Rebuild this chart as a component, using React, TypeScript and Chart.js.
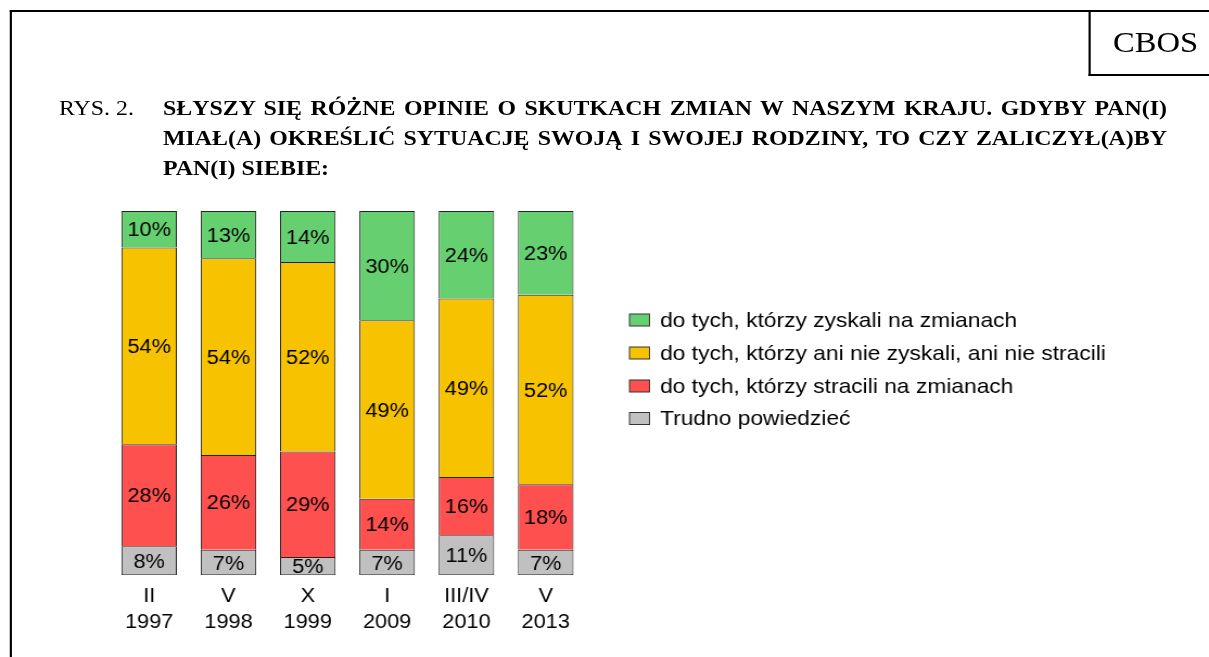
import React, { useEffect, useRef } from "react";
import { Chart, registerables } from "chart.js";

Chart.register(...registerables);

const categories: string[][] = [
  ["II", "1997"],
  ["V", "1998"],
  ["X", "1999"],
  ["I", "2009"],
  ["III/IV", "2010"],
  ["V", "2013"],
];
const zyskali = [10, 13, 14, 30, 24, 23];
const aniNie = [54, 54, 52, 49, 49, 52];
const stracili = [28, 26, 29, 14, 16, 18];
const trudno = [8, 7, 5, 7, 11, 7];

const seriesNames = [
  "do tych, którzy zyskali na zmianach",
  "do tych, którzy ani nie zyskali, ani nie stracili",
  "do tych, którzy stracili na zmianach",
  "Trudno powiedzieć",
];

const COLORS = {
  green: "#66D070",
  yellow: "#F7C300",
  red: "#FF5050",
  grey: "#C0C0C0",
};

const FONT = "Liberation Sans, Arial, sans-serif";
const SERIF = "Liberation Serif, 'Times New Roman', serif";

// logical width; the whole page is stretched horizontally to 1209px
const LW = 1114;
const SX = 1209 / LW;

const labelsPlugin = {
  id: "segLabels",
  afterDatasetsDraw(chart: any) {
    const ctx = chart.ctx;
    ctx.save();
    ctx.font = `20px ${FONT}`;
    ctx.fillStyle = "#000";
    ctx.textAlign = "center";
    ctx.textBaseline = "middle";
    chart.data.datasets.forEach((ds: any, i: number) => {
      const meta = chart.getDatasetMeta(i);
      meta.data.forEach((el: any, j: number) => {
        const v = ds.data[j];
        ctx.fillText(`${v}%`, el.x, (el.y + el.base) / 2 + 1.5);
      });
    });
    ctx.restore();
  },
};

const legendPlugin = {
  id: "customLegend",
  afterDraw(chart: any) {
    const ctx = chart.ctx;
    ctx.save();
    ctx.font = `21px ${FONT}`;
    ctx.textBaseline = "middle";
    ctx.textAlign = "left";
    const dsList = [...chart.data.datasets].reverse();
    const rowY = [320, 353, 386, 418.5];
    const bx = 629.5 / SX;
    const bw = 20 / SX;
    dsList.forEach((ds: any, k: number) => {
      const y = rowY[k];
      ctx.fillStyle = ds.backgroundColor;
      ctx.fillRect(bx, y - 6, bw, 12);
      ctx.strokeStyle = "#333";
      ctx.lineWidth = 1;
      ctx.strokeRect(bx, y - 6, bw, 12);
      ctx.fillStyle = "#000";
      ctx.fillText(ds.label, 660 / SX, y + 1);
    });
    ctx.restore();
  },
};

export default function App() {
  const ref = useRef<HTMLCanvasElement | null>(null);

  useEffect(() => {
    if (!ref.current) return;
    const inner = { top: 1, left: 1, right: 1, bottom: 0 };
    const chart = new Chart(ref.current, {
      type: "bar",
      data: {
        labels: categories,
        datasets: [
          {
            label: seriesNames[3],
            data: trudno,
            backgroundColor: COLORS.grey,
            borderColor: "#222",
            borderWidth: { top: 1, left: 1, right: 1, bottom: 1 },
            borderSkipped: false,
          },
          {
            label: seriesNames[2],
            data: stracili,
            backgroundColor: COLORS.red,
            borderColor: "#222",
            borderWidth: inner,
            borderSkipped: false,
          },
          {
            label: seriesNames[1],
            data: aniNie,
            backgroundColor: COLORS.yellow,
            borderColor: "#222",
            borderWidth: inner,
            borderSkipped: false,
          },
          {
            label: seriesNames[0],
            data: zyskali,
            backgroundColor: COLORS.green,
            borderColor: "#222",
            borderWidth: inner,
            borderSkipped: false,
          },
        ],
      },
      options: {
        animation: false,
        responsive: false,
        maintainAspectRatio: false,
        layout: {
          padding: {
            left: 109.5 / SX,
            right: LW - 585.4 / SX,
            top: 211,
            bottom: 21.7,
          },
        },
        datasets: {
          bar: { barPercentage: 0.7, categoryPercentage: 1 },
        },
        plugins: {
          legend: { display: false },
          tooltip: { enabled: false },
          title: { display: false },
        },
        scales: {
          x: {
            stacked: true,
            grid: { display: false, drawTicks: false, tickLength: 0 },
            border: { display: false },
            ticks: {
              color: "#000",
              font: { family: FONT, size: 20, lineHeight: 1.3 },
              padding: 8,
              maxRotation: 0,
              autoSkip: false,
            },
            afterFit: (s: any) => {
              s.height = 60;
            },
          },
          y: {
            stacked: true,
            min: 0,
            max: 100,
            display: false,
          },
        },
      },
      plugins: [labelsPlugin, legendPlugin],
    });
    return () => chart.destroy();
  }, []);

  const titleStyle: React.CSSProperties = {
    fontFamily: SERIF,
    fontSize: 22,
    lineHeight: "30px",
    color: "#000",
    whiteSpace: "nowrap",
  };

  return (
    <div
      style={{
        position: "absolute",
        left: 0,
        top: 0,
        width: 1209,
        height: 657,
        overflow: "hidden",
        background: "#fff",
      }}
    >
      <div
        style={{
          position: "absolute",
          left: 0,
          top: 0,
          width: LW,
          height: 657,
          transform: `scaleX(${SX})`,
          transformOrigin: "0 0",
        }}
      >
        <div
          style={{
            position: "absolute",
            left: 10 / SX,
            top: 10,
            width: 1300,
            height: 800,
            borderTop: "2px solid #000",
            borderLeft: "2px solid #000",
          }}
        />
        <div
          style={{
            position: "absolute",
            left: 1089 / SX,
            top: 10,
            width: 200,
            height: 64,
            borderLeft: "2px solid #000",
            borderBottom: "2px solid #000",
          }}
        />
        <div
          style={{
            position: "absolute",
            left: 1113 / SX,
            top: 22,
            fontFamily: SERIF,
            fontSize: 30,
            lineHeight: "40px",
            color: "#000",
          }}
        >
          CBOS
        </div>
        <div style={{ ...titleStyle, position: "absolute", left: 59 / SX, top: 93 }}>
          RYS. 2.
        </div>
        <div
          style={{
            ...titleStyle,
            position: "absolute",
            left: 163 / SX,
            top: 93,
            width: 1004 / SX,
            fontWeight: "bold",
          }}
        >
          <div style={{ textAlign: "justify", textAlignLast: "justify" }}>
            SŁYSZY SIĘ RÓŻNE OPINIE O SKUTKACH ZMIAN W NASZYM KRAJU. GDYBY PAN(I)
          </div>
          <div style={{ textAlign: "justify", textAlignLast: "justify" }}>
            MIAŁ(A) OKREŚLIĆ SYTUACJĘ SWOJĄ I SWOJEJ RODZINY, TO CZY ZALICZYŁ(A)BY
          </div>
          <div>PAN(I) SIEBIE:</div>
        </div>
        <canvas
          ref={ref}
          width={LW}
          height={657}
          style={{ position: "absolute", left: 0, top: 0, width: LW, height: 657 }}
        />
      </div>
    </div>
  );
}
